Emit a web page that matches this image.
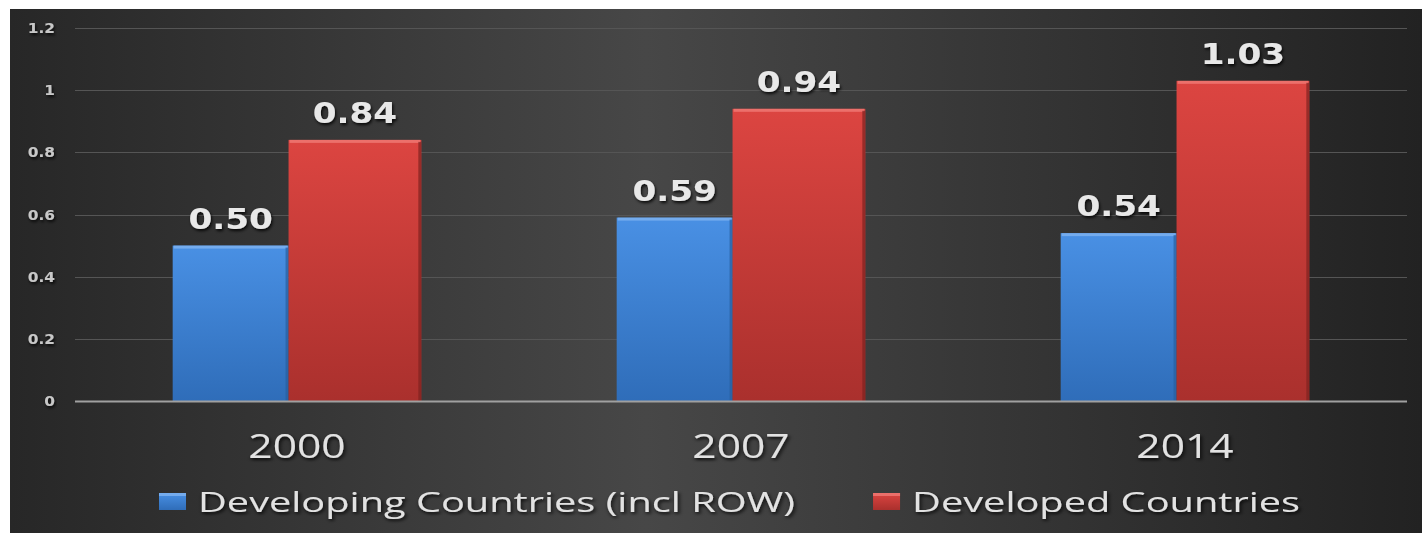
<!DOCTYPE html>
<html>
<head>
<meta charset="utf-8">
<script src="https://cdn.jsdelivr.net/npm/d3@7"></script>
<style>
	html, body { margin: 0; padding: 0; background: #fff; }
	svg { display: block; }
</style>
</head>
<body>
<div id="chart"></div>
<script>
// chart data
const years = ['2000', '2007', '2014'];
const seriesNames = ['Developing Countries (incl ROW)', 'Developed Countries'];
const developing = [0.50, 0.59, 0.54];
const developed = [0.84, 0.94, 1.03];
const yTicks = [0, 0.2, 0.4, 0.6, 0.8, 1, 1.2];

const W = 1422;
const H = 533;
const plot = {left: 75, right: 1407, top: 28, bottom: 401};
// source picture is stretched sideways, so text is widened a bit
const stretch = 1.33;
const legendStretch = 1.42;
// blue bars are a little narrower than red ones in the source
const barShare = [0.466, 0.534];

const colors = [
	{top: '#4990e4', bottom: '#2f6db9', hi: '#7fb3f0', edge: '#285e9e'},
	{top: '#dc4541', bottom: '#aa302d', hi: '#f07a76', edge: '#7e2220'},
];

const svg = d3
	.select('#chart')
	.append('svg')
	.attr('width', W)
	.attr('height', H);

const defs = svg.append('defs');

const bg = defs
	.append('linearGradient')
	.attr('id', 'bg')
	.attr('x1', 0)
	.attr('x2', 1)
	.attr('y1', 0)
	.attr('y2', 0);
bg.append('stop').attr('offset', 0).attr('stop-color', '#272727');
bg.append('stop').attr('offset', 0.45).attr('stop-color', '#474747');
bg.append('stop').attr('offset', 1).attr('stop-color', '#222');

colors.forEach((c, i) => {
	const g = defs
		.append('linearGradient')
		.attr('id', `bar${i}`)
		.attr('x1', 0)
		.attr('x2', 0)
		.attr('y1', 0)
		.attr('y2', 1);
	g.append('stop').attr('offset', 0).attr('stop-color', c.top);
	g.append('stop').attr('offset', 1).attr('stop-color', c.bottom);
});

const shadow = defs.append('filter').attr('id', 'shadow');
shadow
	.append('feDropShadow')
	.attr('dx', 1)
	.attr('dy', 2)
	.attr('stdDeviation', 1.5)
	.attr('flood-color', '#000')
	.attr('flood-opacity', 0.85);

// dark panel, white strip on top and left
svg.append('rect')
	.attr('x', 10)
	.attr('y', 9)
	.attr('width', W - 10)
	.attr('height', H - 9)
	.attr('fill', 'url(#bg)');

const y = d3
	.scaleLinear()
	.domain([0, 1.2])
	.range([plot.bottom, plot.top]);

const x0 = d3
	.scaleBand()
	.domain(years)
	.range([plot.left, plot.right])
	.paddingInner(0.44)
	.paddingOuter(0.22);

// gridlines
svg.append('g')
	.selectAll('line')
	.data(yTicks.filter(t => t > 0))
	.enter()
	.append('line')
	.attr('x1', plot.left)
	.attr('x2', plot.right)
	.attr('y1', d => Math.round(y(d)) + 0.5)
	.attr('y2', d => Math.round(y(d)) + 0.5)
	.attr('stroke', '#555')
	.attr('stroke-width', 1);

// y tick labels
svg.append('g')
	.selectAll('text')
	.data(yTicks)
	.enter()
	.append('text')
	.attr('transform', d => `translate(55,${y(d)}) scale(1.1,1)`)
	.attr('dy', '0.36em')
	.attr('text-anchor', 'end')
	.attr('font-family', 'DejaVu Sans')
	.attr('font-weight', 'bold')
	.attr('font-size', 14)
	.attr('fill', '#c8c8c8')
	.attr('filter', 'url(#shadow)')
	.text(d => d3.format('')(d));

// bars
const series = [developing, developed];
const barGroups = svg
	.append('g')
	.selectAll('g')
	.data(years)
	.enter()
	.append('g')
	.attr('transform', d => `translate(${x0(d)},0)`);

const bw = x0.bandwidth();
const barData = (yr, i) =>
	series.map((s, k) => ({
		k,
		value: s[i],
		x: k === 0 ? 0 : bw * barShare[0],
		w: bw * barShare[k],
	}));

const bars = barGroups
	.selectAll('g.bar')
	.data(barData)
	.enter()
	.append('g')
	.attr('class', 'bar');

bars.append('rect')
	.attr('x', d => d.x)
	.attr('y', d => y(d.value))
	.attr('width', d => d.w)
	.attr('height', d => y(0) - y(d.value))
	.attr('fill', d => `url(#bar${d.k})`);

// bevel: light top edge, dark right edge
bars.append('rect')
	.attr('x', d => d.x + 1)
	.attr('y', d => y(d.value))
	.attr('width', d => d.w - 2)
	.attr('height', 3)
	.attr('fill', d => colors[d.k].hi)
	.attr('opacity', 0.8);

bars.append('rect')
	.attr('x', d => d.x + d.w - 3)
	.attr('y', d => y(d.value) + 2)
	.attr('width', 3)
	.attr('height', d => y(0) - y(d.value) - 2)
	.attr('fill', d => colors[d.k].edge)
	.attr('opacity', 0.7);

// value labels
bars.append('text')
	.attr('transform', d =>
		`translate(${d.x + d.w / 2},${y(d.value) - 17}) scale(1.18,1)`)
	.attr('text-anchor', 'middle')
	.attr('font-family', 'DejaVu Sans')
	.attr('font-weight', 'bold')
	.attr('font-size', 29)
	.attr('fill', '#e8e8e8')
	.attr('filter', 'url(#shadow)')
	.text(d => d.value.toFixed(2));

// baseline
svg.append('line')
	.attr('x1', plot.left)
	.attr('x2', plot.right)
	.attr('y1', y(0) + 0.5)
	.attr('y2', y(0) + 0.5)
	.attr('stroke', '#a0a0a0')
	.attr('stroke-width', 2);

// category labels
svg.append('g')
	.selectAll('text')
	.data(years)
	.enter()
	.append('text')
	.attr('transform', d =>
		`translate(${x0(d) + bw / 2},458) scale(${stretch},1)`)
	.attr('text-anchor', 'middle')
	.attr('font-family', 'Open Sans')
	.attr('font-size', 32)
	.attr('fill', '#e2e2e2')
	.attr('filter', 'url(#shadow)')
	.text(d => d);

// legend
const legend = svg.append('g');
let lx = 159;
seriesNames.forEach((name, k) => {
	legend
		.append('rect')
		.attr('x', lx)
		.attr('y', 493)
		.attr('width', 27)
		.attr('height', 17)
		.attr('fill', `url(#bar${k})`);
	legend
		.append('rect')
		.attr('x', lx)
		.attr('y', 493)
		.attr('width', 27)
		.attr('height', 3)
		.attr('fill', colors[k].hi)
		.attr('opacity', 0.8);
	const t = legend
		.append('text')
		.attr('transform',
			`translate(${lx + 39},512) scale(${legendStretch},1)`)
		.attr('font-family', 'Open Sans')
		.attr('font-size', 28)
		.attr('fill', '#e2e2e2')
		.attr('filter', 'url(#shadow)')
		.text(name);
	lx += 39 + t.node().getComputedTextLength() * legendStretch + 78;
});
</script>
</body>
</html>
